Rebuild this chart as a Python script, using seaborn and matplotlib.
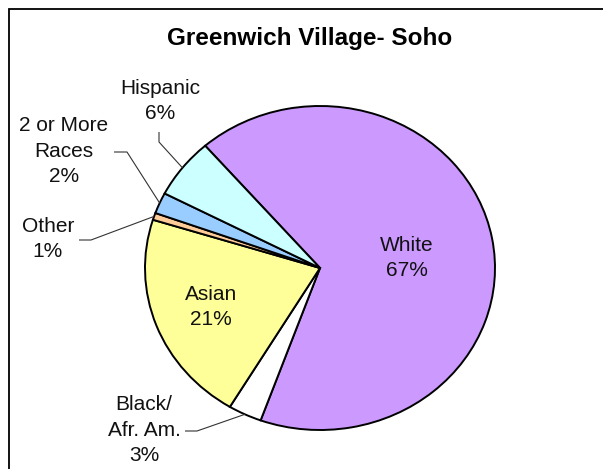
import numpy as np
import matplotlib
matplotlib.use('Agg')
import matplotlib.pyplot as plt
import seaborn as sns

# data (clockwise from White)
groups = ['White', 'Black/\nAfr. Am.', 'Asian', 'Other', '2 or More\nRaces', 'Hispanic']
shares = [66.9, 3.1, 21.2, 0.7, 2.1, 6.0]
colors = ['#CC99FF', '#FFFFFF', '#FFFF99', '#FFCC99', '#99CCFF', '#CCFFFF']
title = 'Greenwich Village- Soho'

sns.set_theme(style='white')
plt.rcParams['font.family'] = ['Liberation Sans', 'DejaVu Sans']

W, H = 603, 469
cx, cy = 320, 268      # pie centre in pixels
rx, ry = 175, 162      # excel draws it slightly squashed

fig = plt.figure(figsize=(W / 100, H / 100), dpi=100)
ax = fig.add_axes([0, 0, 1, 1])


def px(x, y):
    return (x - cx) / rx, (cy - y) / ry


wedges, _ = ax.pie(shares, colors=colors, startangle=131, counterclock=False,
                   radius=1, center=(0, 0), frame=True,
                   wedgeprops=dict(edgecolor='black', linewidth=1.4))
ax.set_xlim(-cx / rx, (W - cx) / rx)
ax.set_ylim(-(H - cy) / ry, cy / ry)
ax.set_aspect('auto')
ax.axis('off')

# label placement (pixels): text centre, leader elbow points (None = inside)
layout = {
    'White': ((407, 258), None),
    'Asian': ((211, 307), None),
    'Hispanic': ((160, 101), [(159, 132), (159, 142)]),
    '2 or More\nRaces': ((64, 151), [(114, 152), (127, 152)]),
    'Other': ((48, 239), [(79, 240), (91, 240)]),
    'Black/\nAfr. Am.': ((144, 430), [(185, 431), (197, 431)]),
}

for w, name, val in zip(wedges, groups, shares):
    (tx, ty), elbow = layout[name]
    ax.text(*px(tx, ty), f'{name}\n{round(val):.0f}%', ha='center', va='center',
            fontsize=15, linespacing=1.45, color='#111111')
    if elbow:
        mid = np.deg2rad((w.theta1 + w.theta2) / 2)
        pts = [px(*p) for p in elbow] + [(np.cos(mid), np.sin(mid))]
        xs, ys = zip(*pts)
        ax.plot(xs, ys, color='#333333', lw=0.8, solid_capstyle='butt')

fig.text(310 / W, 1 - 38 / H, title, ha='center', va='center',
         fontsize=17.5, fontweight='bold', color='black')

# chart area border (runs off the right and bottom edges)
fig.patches.append(plt.Rectangle((8.5 / W, -0.1), 1.2, 1 - 9.5 / H + 0.1,
                                 transform=fig.transFigure, fill=False,
                                 edgecolor='black', linewidth=1.3))

fig.savefig('out.png', dpi=100, facecolor='white')
